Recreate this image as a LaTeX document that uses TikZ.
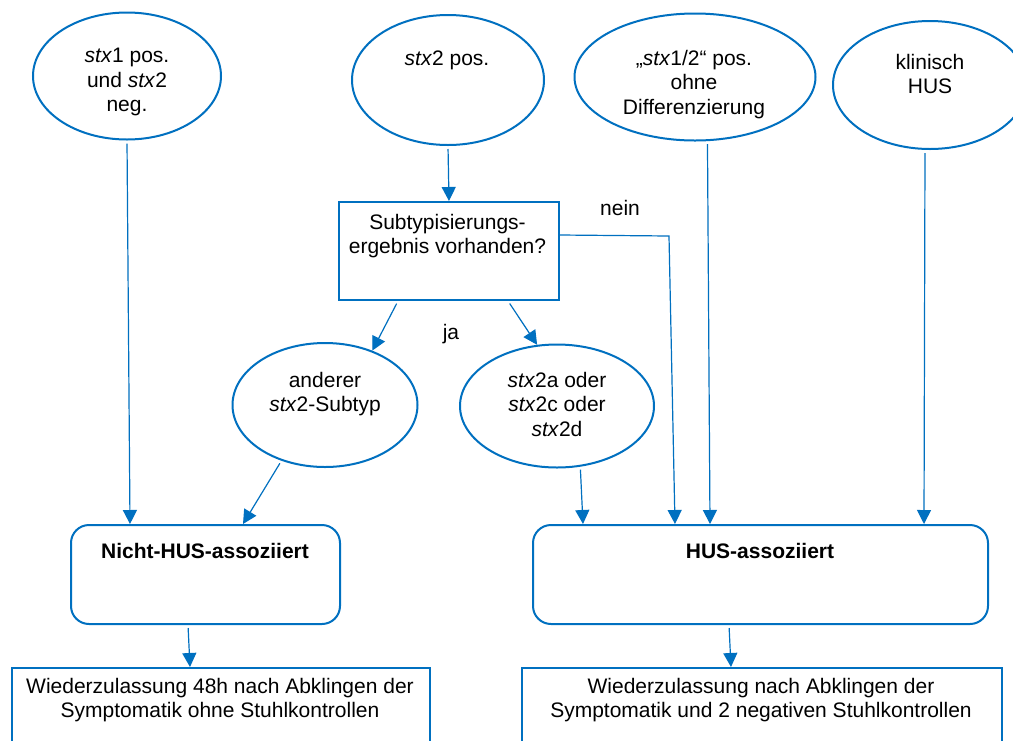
\documentclass[tikz,border=0pt]{standalone}
\usepackage{fontspec}
\setmainfont{Liberation Sans}
\usetikzlibrary{shapes.geometric,arrows.meta,calc}
\definecolor{cblue}{HTML}{0070C0}
\begin{document}
\begin{tikzpicture}[x=1pt,y=-1pt,
  outl/.style={draw=cblue, line width=2pt, inner sep=0pt},
  ell/.style={outl, ellipse},
  box/.style={outl, rectangle, anchor=north west},
  rbox/.style={outl, rectangle, rounded corners=18pt, anchor=north west},
  txt/.style={inner sep=0pt, align=center, font=\fontsize{21}{24.5}\selectfont, anchor=north},
  conn/.style={draw=cblue, line width=1.2pt, shorten <=3pt, -{Triangle[length=14pt,width=14pt]}}]
\useasboundingbox (0,0) rectangle (1013,740);
\fill[white] (0,0) rectangle (1013,740);
\clip (0,0) rectangle (1013,740);

% top ellipses
\node[ell, minimum width=188, minimum height=127] (e1) at (127,76) {};
\node[txt] (t1) at (127,48) {\textit{stx}1 pos.\\und \textit{stx}2\\neg.};
\node[ell, minimum width=192, minimum height=130] (e2) at (448,80) {};
\node[txt] (t2) at (447,51) {\textit{stx}2 pos.};
\node[ell, minimum width=241, minimum height=127] (e3) at (695,77) {};
\node[txt] (t3) at (694,50) {„\textit{stx}1/2“ pos.\\ohne\\Differenzierung};
\node[ell, minimum width=194, minimum height=128] (e4) at (930,85) {};
\node[txt] (t4) at (930,54) {klinisch\\HUS};

% decision box
\node[box, minimum width=220, minimum height=98] (sub) at (338,201) {};
\node[txt] (tsub) at (447.5,214) {Subtypisierungs-\\ergebnis vorhanden?};

% middle ellipses
\node[ell, minimum width=185, minimum height=124] (ea) at (325,405) {};
\node[txt] (ta) at (325,372) {anderer\\\textit{stx}2-Subtyp};
\node[ell, minimum width=194, minimum height=123] (eb) at (557,406) {};
\node[txt] (tb) at (557,372) {\textit{stx}2a oder\\\textit{stx}2c oder\\\textit{stx}2d};

% labels
\node[txt] (ja) at (451,324) {ja};
\node[txt] (nein) at (620,200) {nein};

% result boxes
\node[rbox, minimum width=269, minimum height=99] (nh) at (70,524) {};
\node[txt] (tnh) at (205,543) {\bfseries Nicht-HUS-assoziiert};
\node[rbox, minimum width=455, minimum height=99] (hus) at (532,524) {};
\node[txt] (thus) at (760,543) {\bfseries HUS-assoziiert};

% bottom boxes
\node[box, minimum width=418, minimum height=100] (bl) at (11,667) {};
\node[txt] (tbl) at (220,678) {Wiederzulassung 48h nach Abklingen der\\Symptomatik ohne Stuhlkontrollen};
\node[box, minimum width=480, minimum height=100] (br) at (521,667) {};
\node[txt] (tbr) at (761,678) {Wiederzulassung nach Abklingen der\\Symptomatik und 2 negativen Stuhlkontrollen};

% connectors
\draw[conn] (e1.south) -- ($(nh.north west)+(60,0)$);
\draw[conn] (ea.232) -- ($(nh.north west)+(173,0)$);
\draw[conn] (e2.south) -- (sub.north);
\draw[conn] ($(sub.south west)+(60,0)$) -- (ea.49);
\draw[conn] ($(sub.south west)+(170,0)$) -- (eb.108);
\coordinate (nc) at (669,236);
\draw[conn, shorten <=0pt] ($(sub.north east)+(0,34)$) -- (nc) -- ($(hus.north west)+(143,0)$);
\draw[conn] (eb.291) -- ($(hus.north west)+(51,0)$);
\draw[conn] (e3.281) -- ($(hus.north west)+(178,0)$);
\draw[conn] ($(e4.south)+(-5,0)$) -- ($(hus.north west)+(392,0)$);
\draw[conn] ($(nh.south west)+(118,0)$) -- ($(bl.north west)+(179,0)$);
\draw[conn] ($(hus.south west)+(197,0)$) -- ($(br.north west)+(210,0)$);
\end{tikzpicture}
\end{document}
